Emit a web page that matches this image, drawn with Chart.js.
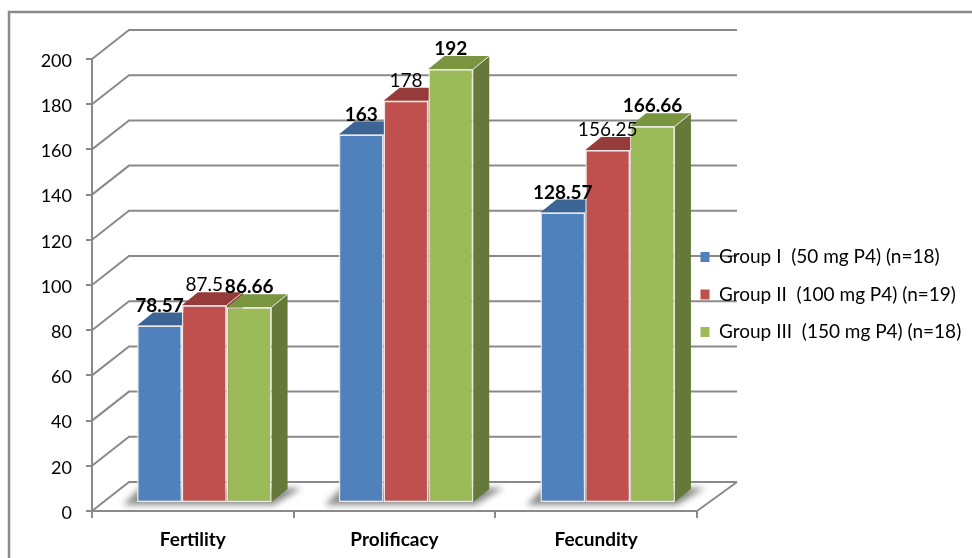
<!DOCTYPE html>
<html>
<head>
<meta charset="utf-8">
<title>Fertility, prolificacy and fecundity</title>
<script src="https://cdn.jsdelivr.net/npm/chart.js@4"></script>
<style>
    html, body { margin: 0; padding: 0; background: #fff; }
    canvas { display: block; }
</style>
</head>
<body>
<canvas id="chart" width="972" height="558"></canvas>
<script>
// data
const categories = ['Fertility', 'Prolificacy', 'Fecundity'];
const groupNames = ['Group I  (50 mg P4) (n=18)', 'Group II  (100 mg P4) (n=19)', 'Group III  (150 mg P4) (n=18)'];
const groupOne = [78.57, 163, 128.57];
const groupTwo = [87.5, 178, 156.25];
const groupThree = [86.66, 192, 166.66];
const yTicksMax = 200;
const yTicksStep = 20;

// colours per group
const frontColors = ['#4f81bd', '#c0504d', '#9bbb59'];
const topColors = ['#3c6494', '#953b39', '#7a9540'];
const sideColors = ['#375a85', '#8a3735', '#657a39'];
const labelWeights = ['bold', 'normal', 'bold'];

const FONT = 'Lato';
const GRAY = '#8a8a8a';
const EDGE = '#ece8e6';

// the 3d look: back wall offset, bar offset from the front plane, bar depth
const WALL_DX = 37, WALL_DY = 29;
const BAR_DX = 11.5, BAR_DY = 8;
const DEPTH_DX = 16, DEPTH_DY = 13;

function poly(ctx, pts, fill, stroke) {
    ctx.beginPath();
    pts.forEach((p, i) => i ? ctx.lineTo(p[0], p[1]) : ctx.moveTo(p[0], p[1]));
    ctx.closePath();
    ctx.fillStyle = fill;
    ctx.fill();
    if (stroke) {
        ctx.strokeStyle = stroke;
        ctx.lineWidth = 1;
        ctx.stroke();
    }
}

// frame, back wall and floor
const wallPlugin = {
    id: 'wall',
    beforeDraw(chart) {
        const ctx = chart.ctx;
        const area = chart.chartArea;
        const y = chart.scales.y;

        ctx.save();
        ctx.strokeStyle = GRAY;
        ctx.lineWidth = 2.5;
        ctx.beginPath();
        ctx.moveTo(9, 558);
        ctx.lineTo(9, 12);
        ctx.lineTo(972, 12);
        ctx.stroke();

        ctx.lineWidth = 2;
        y.ticks.forEach(t => {
            const py = y.getPixelForValue(t.value);
            ctx.beginPath();
            ctx.moveTo(area.left, py);
            ctx.lineTo(area.left + WALL_DX, py - WALL_DY);
            ctx.lineTo(area.right + WALL_DX + 3, py - WALL_DY);
            ctx.stroke();
        });
        ctx.beginPath();
        ctx.moveTo(area.right, area.bottom);
        ctx.lineTo(area.right + WALL_DX + 3, area.bottom - WALL_DY);
        ctx.stroke();
        ctx.restore();

        // move the legend to where the original has it
        const legend = chart.legend;
        legend.left = 682;
        legend.top = 229;
        legend.right = 972;
        legend.bottom = 400;
        legend.width = 290;
        legend.height = 171;
    }
};

// shadows, tops and sides of the bars, then the value labels
const bars3dPlugin = {
    id: 'bars3d',
    beforeDatasetsDraw(chart) {
        const ctx = chart.ctx;
        ctx.save();
        ctx.translate(BAR_DX, -BAR_DY);

        const first = chart.getDatasetMeta(0).data;
        const last = chart.getDatasetMeta(2).data;
        categories.forEach((c, i) => {
            const x0 = first[i].x - first[i].width / 2;
            const x1 = last[i].x + last[i].width / 2;
            const b = first[i].base;
            ctx.save();
            ctx.filter = 'blur(3px)';
            poly(ctx, [[x0 - 14, b + 3], [x1 + 2, b + 3], [x1 + 30, b - 14], [x0 + 3, b - 14]], '#8c8c8c');
            ctx.restore();
        });

        chart.data.datasets.forEach((ds, d) => {
            chart.getDatasetMeta(d).data.forEach(bar => {
                const x0 = bar.x - bar.width / 2;
                const x1 = bar.x + bar.width / 2;
                poly(ctx, [[x1, bar.y], [x1 + DEPTH_DX, bar.y - DEPTH_DY], [x1 + DEPTH_DX, bar.base - DEPTH_DY], [x1, bar.base]], sideColors[d]);
                poly(ctx, [[x0, bar.y], [x0 + DEPTH_DX, bar.y - DEPTH_DY], [x1 + DEPTH_DX, bar.y - DEPTH_DY], [x1, bar.y]], topColors[d]);
                ctx.strokeStyle = EDGE;
                ctx.lineWidth = 1;
                ctx.beginPath();
                ctx.moveTo(x1, bar.y);
                ctx.lineTo(x1 + DEPTH_DX, bar.y - DEPTH_DY);
                ctx.stroke();
            });
        });
    },
    afterDatasetsDraw(chart) {
        const ctx = chart.ctx;
        ctx.textAlign = 'center';
        ctx.textBaseline = 'middle';
        ctx.fillStyle = '#000';
        chart.data.datasets.forEach((ds, d) => {
            ctx.font = labelWeights[d] + ' 19px ' + FONT;
            chart.getDatasetMeta(d).data.forEach((bar, i) => {
                ctx.fillText(String(ds.data[i]), bar.x, bar.y - 20);
            });
        });
        ctx.restore();
    }
};

const seriesValues = [groupOne, groupTwo, groupThree];

new Chart(document.getElementById('chart').getContext('2d'), {
    type: 'bar',
    data: {
        labels: categories,
        datasets: seriesValues.map((values, d) => ({
            label: groupNames[d],
            data: values,
            backgroundColor: frontColors[d],
            borderColor: EDGE,
            borderWidth: 1.5,
            borderSkipped: false,
            clip: false
        }))
    },
    options: {
        responsive: false,
        animation: false,
        layout: { padding: { left: 0, top: 59, right: 275, bottom: 0 } },
        datasets: { bar: { barPercentage: 1, categoryPercentage: 0.667 } },
        plugins: {
            title: { display: false },
            tooltip: { enabled: false },
            legend: {
                position: 'chartArea',
                align: 'start',
                labels: {
                    boxWidth: 9,
                    boxHeight: 10,
                    padding: 18.5,
                    color: '#111',
                    font: { family: FONT, size: 19 },
                    generateLabels(chart) {
                        return groupNames.map((name, d) => ({
                            text: name,
                            fillStyle: frontColors[d],
                            strokeStyle: frontColors[d],
                            lineWidth: 0,
                            datasetIndex: d
                        }));
                    }
                }
            }
        },
        scales: {
            x: {
                afterFit(scale) { scale.height = 47; },
                border: { color: GRAY, width: 2 },
                grid: { offset: true, drawOnChartArea: false, color: GRAY, tickColor: GRAY, tickLength: 7, lineWidth: 2 },
                ticks: { color: '#000', padding: 10, font: { family: FONT, size: 19, weight: 'bold' }, maxRotation: 0 }
            },
            y: {
                min: 0,
                max: yTicksMax,
                afterFit(scale) { scale.width = 92; },
                border: { color: GRAY, width: 2 },
                grid: { drawOnChartArea: false, color: GRAY, tickColor: GRAY, tickLength: 6, lineWidth: 2 },
                ticks: { stepSize: yTicksStep, color: '#000', padding: 14, labelOffset: 2, font: { family: FONT, size: 18 } }
            }
        }
    },
    plugins: [wallPlugin, bars3dPlugin]
});
</script>
</body>
</html>
